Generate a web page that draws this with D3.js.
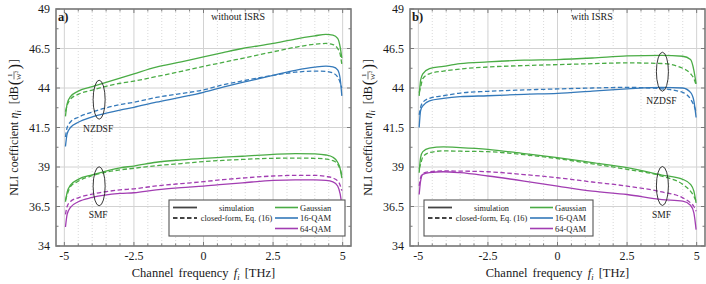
<!DOCTYPE html>
<html><head><meta charset="utf-8">
<script src="https://cdn.jsdelivr.net/npm/d3@7"></script>
<style>
body{margin:0;background:#fff}
svg{display:block}
text{font-family:"Liberation Serif","DejaVu Serif",serif;fill:#1a1a1a}
</style>
</head><body><svg id="c" width="706" height="284"></svg>
<script>
// ---------- data ----------
const yTicks = [34, 36.5, 39, 41.5, 44, 46.5, 49];
const yTickLabels = ["34", "36.5", "39", "41.5", "44", "46.5", "49"];
const xTicks = [-5, -2.5, 0, 2.5, 5];
const xTickLabels = ["-5", "-2.5", "0", "2.5", "5"];
const legendStyles = ["simulation", "closed-form, Eq. (16)"];
const legendFormats = ["Gaussian", "16-QAM", "64-QAM"];

// panel a) without ISRS
const freqA = [-4.96, -4.9, -4.78, -4.5, -4.0, -3.0, -2.5, -1.7, -0.8, 0, 0.7, 1.4, 2.5, 3.3, 4.0, 4.4, 4.65, 4.82, 4.91, 4.97];
const aNzGaussSim = [42.2, 43.0, 43.45, 43.8, 44.08, 44.63, 44.9, 45.32, 45.65, 45.97, 46.24, 46.5, 46.82, 47.1, 47.3, 47.4, 47.35, 47.14, 46.6, 45.9];
const aNzGaussCf  = [42.5, 42.9, 43.3, 43.6, 43.87, 44.3, 44.44, 44.72, 45.05, 45.37, 45.62, 45.88, 46.29, 46.58, 46.77, 46.82, 46.75, 46.5, 46.15, 45.5];
const aNz16Sim    = [40.3, 41.1, 41.5, 41.83, 42.17, 42.6, 42.78, 43.1, 43.42, 43.73, 44.05, 44.35, 44.8, 45.12, 45.32, 45.38, 45.33, 45.15, 44.6, 43.5];
const aNz16Cf     = [40.9, 41.5, 41.85, 42.15, 42.48, 42.95, 43.1, 43.4, 43.65, 43.88, 44.2, 44.45, 44.8, 45.0, 45.07, 45.05, 44.95, 44.7, 44.35, 44.0];
const aSmfGaussSim = [36.8, 37.4, 37.85, 38.22, 38.5, 38.95, 39.06, 39.3, 39.45, 39.55, 39.62, 39.68, 39.8, 39.85, 39.83, 39.76, 39.62, 39.3, 38.9, 38.3];
const aSmfGaussCf  = [36.9, 37.25, 37.75, 38.1, 38.45, 38.82, 38.92, 39.08, 39.22, 39.34, 39.42, 39.48, 39.55, 39.56, 39.55, 39.5, 39.4, 39.18, 38.85, 38.5];
const aSmf64Sim    = [35.2, 36.0, 36.45, 36.8, 37.07, 37.33, 37.37, 37.55, 37.7, 37.79, 37.9, 38.0, 38.15, 38.19, 38.18, 38.15, 38.06, 37.8, 37.3, 36.6];
const aSmf64Cf     = [36.0, 36.5, 36.82, 37.05, 37.28, 37.55, 37.62, 37.8, 37.95, 38.07, 38.2, 38.3, 38.43, 38.47, 38.47, 38.4, 38.3, 38.12, 37.85, 37.5];

// panel b) with ISRS
const freqB = [-4.97, -4.92, -4.84, -4.6, -4.1, -3.5, -2.5, -1.2, 0, 1.25, 2.5, 3.75, 4.5, 4.78, 4.9, 4.98];
const bNzGaussSim = [43.5, 44.48, 44.9, 45.22, 45.37, 45.54, 45.65, 45.76, 45.8, 45.9, 46.03, 46.07, 46.01, 45.8, 45.12, 44.27];
const bNzGaussCf  = [43.7, 44.05, 44.59, 44.9, 45.07, 45.2, 45.33, 45.42, 45.48, 45.54, 45.59, 45.55, 45.25, 44.9, 44.6, 44.2];
const bNz16Sim    = [41.5, 42.56, 42.87, 43.19, 43.34, 43.45, 43.51, 43.6, 43.66, 43.8, 43.94, 44.04, 44.0, 43.72, 43.19, 42.13];
const bNz16Cf     = [42.3, 42.77, 43.09, 43.35, 43.51, 43.68, 43.79, 43.88, 43.94, 44.0, 44.04, 43.95, 43.72, 43.3, 42.9, 42.5];
const bSmfGaussSim = [38.64, 39.59, 39.97, 40.19, 40.27, 40.23, 40.12, 39.85, 39.59, 39.28, 38.96, 38.49, 38.22, 37.9, 37.47, 36.73];
const bSmfGaussCf  = [38.9, 39.17, 39.64, 39.91, 40.02, 40.0, 39.97, 39.78, 39.53, 39.2, 38.85, 38.42, 37.9, 37.47, 37.15, 36.84];
const bSmf64Sim    = [37.26, 38.11, 38.53, 38.64, 38.7, 38.64, 38.43, 38.11, 37.79, 37.47, 37.26, 36.94, 36.84, 36.58, 36.1, 35.04];
const bSmf64Cf     = [37.8, 38.32, 38.58, 38.7, 38.75, 38.74, 38.7, 38.52, 38.32, 38.05, 37.79, 37.42, 37.05, 36.73, 36.5, 36.2];

// annotations: [freq, value, label]
const annotA = [[-3.75, 43.26, "NZDSF"], [-3.75, 37.78, "SMF"]];
const annotB = [[3.77, 45.03, "NZDSF"], [3.77, 37.8, "SMF"]];

// ---------- style ----------
const COLORS = {Gaussian: "#4aac45", "16-QAM": "#3479ba", "64-QAM": "#a23db2"};
const FRAME = "#7a7a7a";
const svg = d3.select("#c");

const panels = [
  {x0: 56, x1: 351, label: "a)", title: "without ISRS", titleX: 238, freq: freqA,
   series: [[aNzGaussSim, "Gaussian", 0], [aNzGaussCf, "Gaussian", 1], [aNz16Sim, "16-QAM", 0], [aNz16Cf, "16-QAM", 1],
            [aSmfGaussSim, "Gaussian", 0], [aSmfGaussCf, "Gaussian", 1], [aSmf64Sim, "64-QAM", 0], [aSmf64Cf, "64-QAM", 1]],
   annot: annotA, annotDy: [32, 32], legendX: 169, legendW: 176, ylabX: 18},
  {x0: 410, x1: 705, label: "b)", title: "with ISRS", titleX: 592, freq: freqB,
   series: [[bNzGaussSim, "Gaussian", 0], [bNzGaussCf, "Gaussian", 1], [bNz16Sim, "16-QAM", 0], [bNz16Cf, "16-QAM", 1],
            [bSmfGaussSim, "Gaussian", 0], [bSmfGaussCf, "Gaussian", 1], [bSmf64Sim, "64-QAM", 0], [bSmf64Cf, "64-QAM", 1]],
   annot: annotB, annotDy: [32, 32], legendX: 424, legendW: 169, ylabX: 372}
];

const yTop = 9, yBot = 246;

panels.forEach(p => {
  const x = d3.scaleLinear().domain([-5.3, 5.3]).range([p.x0, p.x1]);
  const y = d3.scaleLinear().domain([34, 49]).range([yBot, yTop]);
  const g = svg.append("g");

  // minor vertical dotted grid
  const minorX = d3.range(-5, 5.01, 0.5).filter(v => Math.abs(v / 2.5 - Math.round(v / 2.5)) > 1e-6);
  g.selectAll(".mx").data(minorX).enter().append("line")
    .attr("x1", d => x(d)).attr("x2", d => x(d)).attr("y1", yTop).attr("y2", yBot)
    .attr("stroke", "#cfcfcf").attr("stroke-width", 0.8).attr("stroke-dasharray", "1,2");
  // major grid
  g.selectAll(".gx").data(xTicks).enter().append("line")
    .attr("x1", d => x(d)).attr("x2", d => x(d)).attr("y1", yTop).attr("y2", yBot)
    .attr("stroke", "#d2d2d2").attr("stroke-width", 1);
  g.selectAll(".gy").data(yTicks).enter().append("line")
    .attr("x1", p.x0).attr("x2", p.x1).attr("y1", d => y(d)).attr("y2", d => y(d))
    .attr("stroke", "#d2d2d2").attr("stroke-width", 1);

  // ticks (inward, all sides)
  const minorY = d3.range(35.25, 49, 2.5);
  const tk = g.append("g").attr("stroke", FRAME).attr("stroke-width", 1);
  xTicks.forEach(v => {
    tk.append("line").attr("x1", x(v)).attr("x2", x(v)).attr("y1", yBot).attr("y2", yBot - 4);
    tk.append("line").attr("x1", x(v)).attr("x2", x(v)).attr("y1", yTop).attr("y2", yTop + 4);
  });
  minorX.forEach(v => {
    tk.append("line").attr("x1", x(v)).attr("x2", x(v)).attr("y1", yBot).attr("y2", yBot - 2.5);
    tk.append("line").attr("x1", x(v)).attr("x2", x(v)).attr("y1", yTop).attr("y2", yTop + 2.5);
  });
  yTicks.forEach(v => {
    tk.append("line").attr("x1", p.x0).attr("x2", p.x0 + 4).attr("y1", y(v)).attr("y2", y(v));
    tk.append("line").attr("x1", p.x1).attr("x2", p.x1 - 4).attr("y1", y(v)).attr("y2", y(v));
  });
  minorY.forEach(v => {
    tk.append("line").attr("x1", p.x0).attr("x2", p.x0 + 2.5).attr("y1", y(v)).attr("y2", y(v));
    tk.append("line").attr("x1", p.x1).attr("x2", p.x1 - 2.5).attr("y1", y(v)).attr("y2", y(v));
  });

  // curves
  const line = d3.line().x((d, i) => x(p.freq[i])).y(d => y(d)).curve(d3.curveMonotoneX);
  p.series.forEach(([vals, fmt, dashed]) => {
    g.append("path").attr("d", line(vals)).attr("fill", "none")
      .attr("stroke", COLORS[fmt]).attr("stroke-width", 1.3)
      .attr("stroke-dasharray", dashed ? "4.5,2.5" : null);
  });

  // annotations
  p.annot.forEach(([f, v, lab], i) => {
    g.append("ellipse").attr("cx", x(f)).attr("cy", y(v)).attr("rx", 6).attr("ry", 19.5)
      .attr("fill", "none").attr("stroke", "#222").attr("stroke-width", 0.9);
    g.append("text").attr("x", x(f) - 1).attr("y", y(v) + p.annotDy[i])
      .attr("text-anchor", "middle").attr("font-size", 9.5).text(lab);
  });

  // frame
  g.append("rect").attr("x", p.x0).attr("y", yTop).attr("width", p.x1 - p.x0).attr("height", yBot - yTop)
    .attr("fill", "none").attr("stroke", FRAME).attr("stroke-width", 1.6);

  // tick labels
  g.selectAll(".xl").data(xTicks).enter().append("text")
    .attr("x", d => x(d)).attr("y", 260).attr("text-anchor", "middle").attr("font-size", 12)
    .text((d, i) => xTickLabels[i]);
  g.selectAll(".yl").data(yTicks).enter().append("text")
    .attr("x", p.x0 - 6).attr("y", d => y(d) + 4.3).attr("text-anchor", "end").attr("font-size", 12)
    .text((d, i) => yTickLabels[i]);

  // x label
  const xc = (p.x0 + p.x1) / 2;
  const xl = g.append("text").attr("x", xc).attr("y", 277).attr("text-anchor", "middle").attr("font-size", 12.5)
    .attr("word-spacing", 2);
  xl.append("tspan").text("Channel frequency ");
  xl.append("tspan").attr("font-style", "italic").text("f");
  xl.append("tspan").attr("font-style", "italic").attr("font-size", 8.5).attr("dy", 2.5).text("i");
  xl.append("tspan").attr("dy", -2.5).text(" [THz]");

  // y label
  const yg = g.append("g").attr("transform", `translate(${p.ylabX},${(yTop + yBot) / 2}) rotate(-90)`);
  const inner = yg.append("g");
  const t = inner.append("text").attr("font-size", 12);
  t.append("tspan").text("NLI coefficient ");
  t.append("tspan").attr("font-style", "italic").text("η");
  t.append("tspan").attr("font-style", "italic").attr("font-size", 8).attr("dy", 2.5).text("i");
  t.append("tspan").attr("dy", -2.5).text("\u2002[dB");
  const w1 = t.node().getComputedTextLength();
  inner.append("text").attr("x", w1 + 1).attr("y", 2).attr("font-size", 16).text("(");
  inner.append("text").attr("x", w1 + 11).attr("y", -6).attr("text-anchor", "middle").attr("font-size", 7).text("1");
  inner.append("line").attr("x1", w1 + 7).attr("x2", w1 + 15).attr("y1", -4).attr("y2", -4).attr("stroke", "#1a1a1a").attr("stroke-width", 0.6);
  const wt = inner.append("text").attr("x", w1 + 11).attr("y", 2.5).attr("text-anchor", "middle").attr("font-size", 7);
  wt.append("tspan").text("W");
  wt.append("tspan").attr("font-size", 5).attr("dy", -2.5).text("2");
  inner.append("text").attr("x", w1 + 17).attr("y", 2).attr("font-size", 16).text(")");
  inner.append("text").attr("x", w1 + 23).attr("font-size", 12).text("]");
  const total = w1 + 27;
  inner.attr("transform", `translate(${-total / 2},0)`);

  // panel labels
  g.append("text").attr("x", p.x0 + 2).attr("y", 21).attr("font-size", 12.5).attr("font-weight", "bold").text(p.label);
  g.append("text").attr("x", p.titleX).attr("y", 20).attr("text-anchor", "middle").attr("font-size", 10).text(p.title);

  // legend
  const lx = p.legendX, ly = 200;
  const lg = g.append("g");
  lg.append("rect").attr("x", lx).attr("y", ly).attr("width", p.legendW).attr("height", 36)
    .attr("fill", "#fff").attr("stroke", "#555").attr("stroke-width", 1.1);
  const rows = [ly + 7.5, ly + 18, ly + 28.5];
  legendStyles.forEach((s, i) => {
    lg.append("line").attr("x1", lx + 4).attr("x2", lx + 28).attr("y1", rows[i]).attr("y2", rows[i])
      .attr("stroke", "#444").attr("stroke-width", 1.8).attr("stroke-dasharray", i ? "4.5,2.5" : null);
    lg.append("text").attr("x", lx + 67.5).attr("y", rows[i] + 3).attr("text-anchor", "middle").attr("font-size", 8.3).text(s);
  });
  legendFormats.forEach((s, i) => {
    lg.append("line").attr("x1", lx + 106).attr("x2", lx + 129).attr("y1", rows[i]).attr("y2", rows[i])
      .attr("stroke", COLORS[s]).attr("stroke-width", 1.6);
    lg.append("text").attr("x", lx + 131).attr("y", rows[i] + 3).attr("font-size", 8.5).text(s);
  });
});
</script>
</body></html>
